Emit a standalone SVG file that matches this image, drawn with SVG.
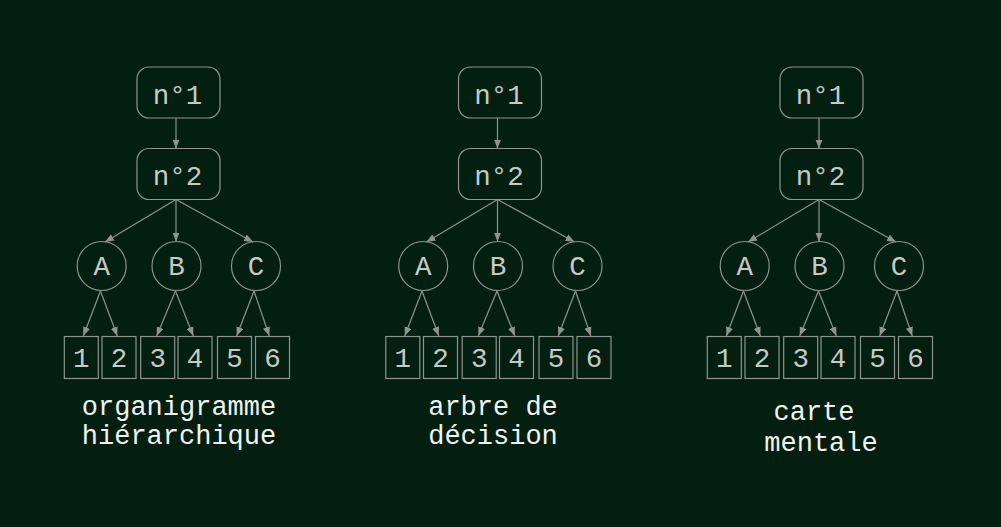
<svg xmlns="http://www.w3.org/2000/svg" width="1001" height="527" viewBox="0 0 1001 527">
<defs>
<style>
.bg{fill:#021f10}
.n{fill:none;stroke:#8e958d;stroke-width:1.2}
.e{fill:none;stroke:#8e958d;stroke-width:1.2;marker-end:url(#ah)}
.t{fill:#c6cac3;font-family:"Liberation Mono","DejaVu Sans Mono",monospace;font-size:27.5px;text-anchor:middle}
.lbl{fill:#f2f2ee;font-family:"Liberation Mono","DejaVu Sans Mono",monospace;font-size:27px;text-anchor:middle}
</style>
<marker id="ah" viewBox="0 0 10 8" refX="10" refY="4" markerWidth="9" markerHeight="7.5" markerUnits="userSpaceOnUse" orient="auto">
<path d="M0,0 L10,4 L0,8 z" fill="#8e958d"/>
</marker>
</defs>
<rect class="bg" x="0" y="0" width="1001" height="527"/>

<!-- Diagram 1 -->
<g id="diagram1">
<g id="d1-connectors">
<line class="e" x1="176" y1="118" x2="176" y2="148.5"/>
<line class="e" x1="176" y1="199.5" x2="105" y2="242"/>
<line class="e" x1="176" y1="199.5" x2="176" y2="241.5"/>
<line class="e" x1="176" y1="199.5" x2="253" y2="242"/>
<line class="e" x1="100.5" y1="291" x2="83.3" y2="336"/>
<line class="e" x1="100.5" y1="291" x2="117.3" y2="336"/>
<line class="e" x1="175.5" y1="291" x2="156.7" y2="336"/>
<line class="e" x1="175.5" y1="291" x2="193.3" y2="336"/>
<line class="e" x1="254" y1="291" x2="236.7" y2="336"/>
<line class="e" x1="254" y1="291" x2="269.3" y2="336"/>
</g>
<g id="d1-n1"><rect class="n" x="137" y="67" width="83" height="51" rx="12"/><text class="t" x="177.5" y="103.5">n°1</text></g>
<g id="d1-n2"><rect class="n" x="137" y="148.5" width="83" height="51" rx="12"/><text class="t" x="177.5" y="184.5">n°2</text></g>
<g id="d1-A"><circle class="n" cx="101.7" cy="266" r="24.5"/><text class="t" x="101.7" y="275">A</text></g>
<g id="d1-B"><circle class="n" cx="176.5" cy="266" r="24.5"/><text class="t" x="176.5" y="275">B</text></g>
<g id="d1-C"><circle class="n" cx="256" cy="266" r="24.5"/><text class="t" x="256" y="275">C</text></g>
<g id="d1-1"><rect class="n" x="64.3" y="336.5" width="34" height="42"/><text class="t" x="81.3" y="367">1</text></g>
<g id="d1-2"><rect class="n" x="102" y="336.5" width="34" height="42"/><text class="t" x="119" y="367">2</text></g>
<g id="d1-3"><rect class="n" x="140.7" y="336.5" width="34" height="42"/><text class="t" x="157.7" y="367">3</text></g>
<g id="d1-4"><rect class="n" x="178" y="336.5" width="34" height="42"/><text class="t" x="195" y="367">4</text></g>
<g id="d1-5"><rect class="n" x="217.5" y="336.5" width="34" height="42"/><text class="t" x="234.5" y="367">5</text></g>
<g id="d1-6"><rect class="n" x="255.5" y="336.5" width="34" height="42"/><text class="t" x="272.5" y="367">6</text></g>
</g>

<!-- Diagram 2 -->
<g id="diagram2" transform="translate(321.5,0)">
<g id="d2-connectors">
<line class="e" x1="176" y1="118" x2="176" y2="148.5"/>
<line class="e" x1="176" y1="199.5" x2="105" y2="242"/>
<line class="e" x1="176" y1="199.5" x2="176" y2="241.5"/>
<line class="e" x1="176" y1="199.5" x2="253" y2="242"/>
<line class="e" x1="100.5" y1="291" x2="83.3" y2="336"/>
<line class="e" x1="100.5" y1="291" x2="117.3" y2="336"/>
<line class="e" x1="175.5" y1="291" x2="156.7" y2="336"/>
<line class="e" x1="175.5" y1="291" x2="193.3" y2="336"/>
<line class="e" x1="254" y1="291" x2="236.7" y2="336"/>
<line class="e" x1="254" y1="291" x2="269.3" y2="336"/>
</g>
<g id="d2-n1"><rect class="n" x="137" y="67" width="83" height="51" rx="12"/><text class="t" x="177.5" y="103.5">n°1</text></g>
<g id="d2-n2"><rect class="n" x="137" y="148.5" width="83" height="51" rx="12"/><text class="t" x="177.5" y="184.5">n°2</text></g>
<g id="d2-A"><circle class="n" cx="101.7" cy="266" r="24.5"/><text class="t" x="101.7" y="275">A</text></g>
<g id="d2-B"><circle class="n" cx="176.5" cy="266" r="24.5"/><text class="t" x="176.5" y="275">B</text></g>
<g id="d2-C"><circle class="n" cx="256" cy="266" r="24.5"/><text class="t" x="256" y="275">C</text></g>
<g id="d2-1"><rect class="n" x="64.3" y="336.5" width="34" height="42"/><text class="t" x="81.3" y="367">1</text></g>
<g id="d2-2"><rect class="n" x="102" y="336.5" width="34" height="42"/><text class="t" x="119" y="367">2</text></g>
<g id="d2-3"><rect class="n" x="140.7" y="336.5" width="34" height="42"/><text class="t" x="157.7" y="367">3</text></g>
<g id="d2-4"><rect class="n" x="178" y="336.5" width="34" height="42"/><text class="t" x="195" y="367">4</text></g>
<g id="d2-5"><rect class="n" x="217.5" y="336.5" width="34" height="42"/><text class="t" x="234.5" y="367">5</text></g>
<g id="d2-6"><rect class="n" x="255.5" y="336.5" width="34" height="42"/><text class="t" x="272.5" y="367">6</text></g>
</g>

<!-- Diagram 3 -->
<g id="diagram3" transform="translate(643,0)">
<g id="d3-connectors">
<line class="e" x1="176" y1="118" x2="176" y2="148.5"/>
<line class="e" x1="176" y1="199.5" x2="105" y2="242"/>
<line class="e" x1="176" y1="199.5" x2="176" y2="241.5"/>
<line class="e" x1="176" y1="199.5" x2="253" y2="242"/>
<line class="e" x1="100.5" y1="291" x2="83.3" y2="336"/>
<line class="e" x1="100.5" y1="291" x2="117.3" y2="336"/>
<line class="e" x1="175.5" y1="291" x2="156.7" y2="336"/>
<line class="e" x1="175.5" y1="291" x2="193.3" y2="336"/>
<line class="e" x1="254" y1="291" x2="236.7" y2="336"/>
<line class="e" x1="254" y1="291" x2="269.3" y2="336"/>
</g>
<g id="d3-n1"><rect class="n" x="137" y="67" width="83" height="51" rx="12"/><text class="t" x="177.5" y="103.5">n°1</text></g>
<g id="d3-n2"><rect class="n" x="137" y="148.5" width="83" height="51" rx="12"/><text class="t" x="177.5" y="184.5">n°2</text></g>
<g id="d3-A"><circle class="n" cx="101.7" cy="266" r="24.5"/><text class="t" x="101.7" y="275">A</text></g>
<g id="d3-B"><circle class="n" cx="176.5" cy="266" r="24.5"/><text class="t" x="176.5" y="275">B</text></g>
<g id="d3-C"><circle class="n" cx="256" cy="266" r="24.5"/><text class="t" x="256" y="275">C</text></g>
<g id="d3-1"><rect class="n" x="64.3" y="336.5" width="34" height="42"/><text class="t" x="81.3" y="367">1</text></g>
<g id="d3-2"><rect class="n" x="102" y="336.5" width="34" height="42"/><text class="t" x="119" y="367">2</text></g>
<g id="d3-3"><rect class="n" x="140.7" y="336.5" width="34" height="42"/><text class="t" x="157.7" y="367">3</text></g>
<g id="d3-4"><rect class="n" x="178" y="336.5" width="34" height="42"/><text class="t" x="195" y="367">4</text></g>
<g id="d3-5"><rect class="n" x="217.5" y="336.5" width="34" height="42"/><text class="t" x="234.5" y="367">5</text></g>
<g id="d3-6"><rect class="n" x="255.5" y="336.5" width="34" height="42"/><text class="t" x="272.5" y="367">6</text></g>
</g>

<g id="labels">
<text class="lbl" x="179" y="414.5">organigramme</text>
<text class="lbl" x="179" y="443.5">hiérarchique</text>
<text class="lbl" x="493" y="414.5">arbre de</text>
<text class="lbl" x="493" y="443.5">décision</text>
<text class="lbl" x="814" y="419.5">carte</text>
<text class="lbl" x="821" y="451">mentale</text>
</g>
</svg>
